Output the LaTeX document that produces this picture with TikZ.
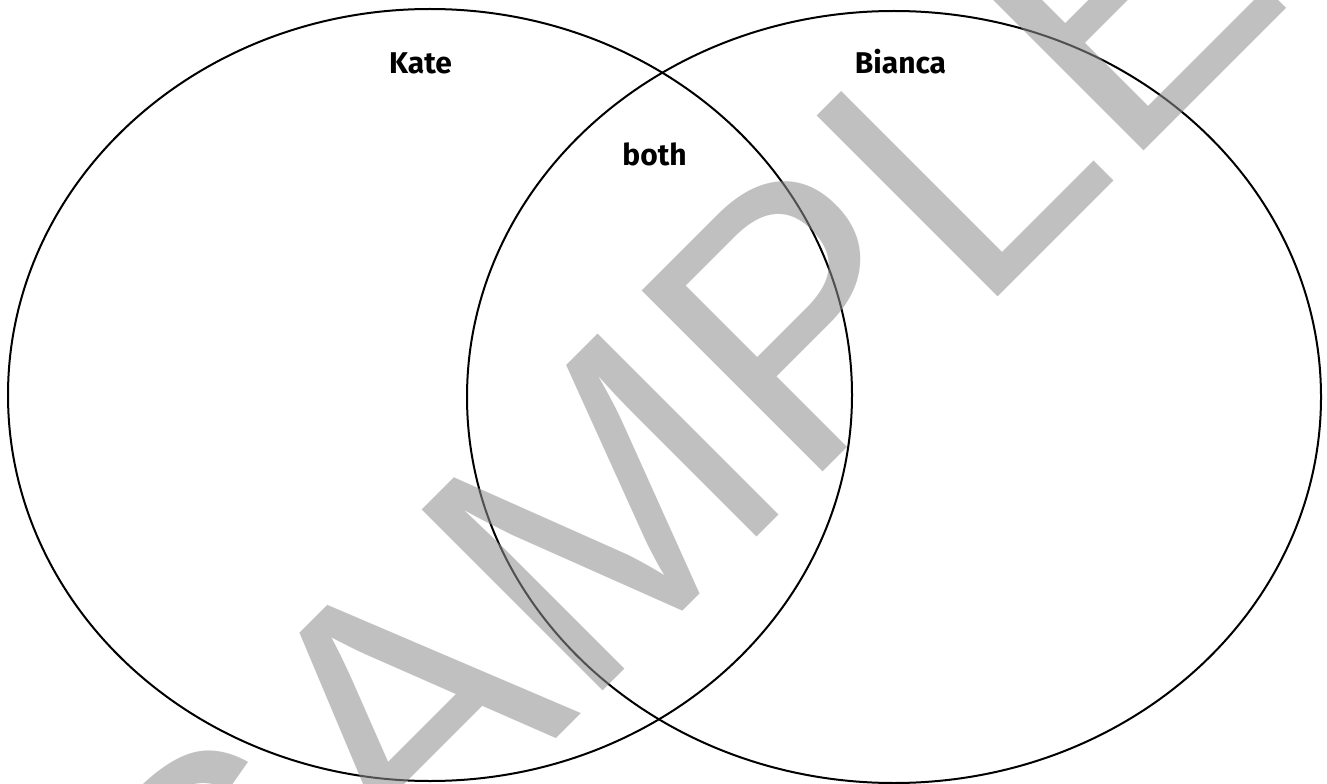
\documentclass[tikz,border=0pt]{standalone}
\usepackage{fontspec}
\newfontfamily\labfont{Fira Sans}
\newfontfamily\wmfont{Liberation Sans}
\definecolor{wmgray}{RGB}{143,143,143}
\tikzset{
  setline/.style={draw=black, line width=1.5pt},
  setlabel/.style={font=\labfont\bfseries\fontsize{22.5pt}{24pt}\selectfont, inner sep=0pt, anchor=base},
  wmark/.style={font=\wmfont\fontsize{279pt}{279pt}\selectfont, text=wmgray, text opacity=0.56, inner sep=0pt, anchor=base west, rotate=45}
}
\begin{document}
\begin{tikzpicture}[x=0.75pt,y=-0.75pt]
\useasboundingbox (0,0) rectangle (1327,784);
\clip (0,0) rectangle (1327,784);
\fill[white] (0,0) rectangle (1327,784);
\draw[setline] (430,395) ellipse [x radius=422, y radius=386];
\draw[setline] (894,397) ellipse [x radius=427, y radius=386];
\node[setlabel] (kate) at (420.5,74) {Kate};
\node[setlabel] (bianca) at (900.5,74) {Bianca};
\node[setlabel] (both) at (654.5,166) {both};
\node[wmark] (wm) at (230.9,1063.9) {SAMPLE};
\end{tikzpicture}
\end{document}
